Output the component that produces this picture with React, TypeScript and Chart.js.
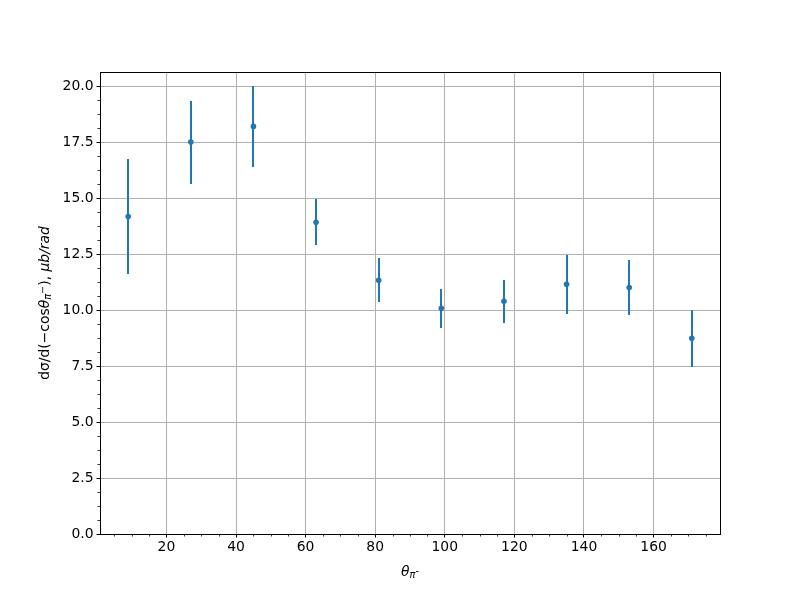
import React, { useEffect, useRef } from "react";
import { Chart, registerables } from "chart.js";

Chart.register(...registerables);

const angles = [9, 27, 45, 63, 81, 99, 117, 135, 153, 171];
const crossSection = [14.18, 17.5, 18.2, 13.92, 11.33, 10.08, 10.39, 11.15, 11.01, 8.74];
const errors = [2.56, 1.85, 1.8, 1.03, 0.98, 0.86, 0.95, 1.31, 1.22, 1.28];
const xTicks = [20, 40, 60, 80, 100, 120, 140, 160];
const yTicks = [0, 2.5, 5, 7.5, 10, 12.5, 15, 17.5, 20];
const xMinorTicks = [5, 10, 15, 25, 30, 35, 45, 50, 55, 65, 70, 75, 85, 90, 95, 105, 110, 115, 125, 130, 135, 145, 150, 155, 165, 170, 175];
const yMinorTicks = [0.625, 1.25, 1.875, 3.125, 3.75, 4.375, 5.625, 6.25, 6.875, 8.125, 8.75, 9.375, 10.625, 11.25, 11.875, 13.125, 13.75, 14.375, 15.625, 16.25, 16.875, 18.125, 18.75, 19.375];

const BLUE = "#1f77b4";
const FONT = "'DejaVu Sans', sans-serif";
const FS = 13.9;

type Seg = { text: string; italic?: boolean; scale?: number; dy?: number };

function drawRich(ctx: CanvasRenderingContext2D, segs: Seg[], cx: number, cy: number) {
  const fontFor = (s: Seg) => `${s.italic ? "italic " : ""}${FS * (s.scale || 1)}px ${FONT}`;
  let total = 0;
  const widths = segs.map((s) => {
    ctx.font = fontFor(s);
    const w = ctx.measureText(s.text).width;
    total += w;
    return w;
  });
  let x = cx - total / 2;
  ctx.textBaseline = "middle";
  ctx.textAlign = "left";
  ctx.fillStyle = "#000";
  segs.forEach((s, i) => {
    ctx.font = fontFor(s);
    ctx.fillText(s.text, x, cy + (s.dy || 0));
    x += widths[i];
  });
}

const customPlugin = {
  id: "custom",
  beforeDatasetsDraw(chart: any) {
    const ctx = chart.ctx as CanvasRenderingContext2D;
    const xs = chart.scales.x;
    const ys = chart.scales.y;
    ctx.save();
    ctx.strokeStyle = BLUE;
    ctx.lineWidth = 2;
    angles.forEach((a, i) => {
      const px = Math.round(xs.getPixelForValue(a));
      ctx.beginPath();
      ctx.moveTo(px, Math.round(ys.getPixelForValue(crossSection[i] + errors[i])));
      ctx.lineTo(px, Math.round(ys.getPixelForValue(crossSection[i] - errors[i])));
      ctx.stroke();
    });
    ctx.restore();
  },
  afterDraw(chart: any) {
    const ctx = chart.ctx as CanvasRenderingContext2D;
    const xs = chart.scales.x;
    const ys = chart.scales.y;
    const a = chart.chartArea;
    ctx.save();
    ctx.strokeStyle = "#000";
    ctx.lineWidth = 1;
    ctx.strokeRect(Math.round(a.left) + 0.5, Math.round(a.top) + 0.5, Math.round(a.right - a.left), Math.round(a.bottom - a.top));
    ctx.lineWidth = 0.8;
    ctx.beginPath();
    xMinorTicks.forEach((v) => {
      const px = Math.round(xs.getPixelForValue(v)) + 0.5;
      ctx.moveTo(px, a.bottom);
      ctx.lineTo(px, a.bottom + 2.5);
    });
    yMinorTicks.forEach((v) => {
      const py = Math.round(ys.getPixelForValue(v)) + 0.5;
      ctx.moveTo(a.left, py);
      ctx.lineTo(a.left - 2.5, py);
    });
    ctx.stroke();

    drawRich(
      ctx,
      [
        { text: "θ", italic: true },
        { text: "π", italic: true, scale: 0.7, dy: 3 },
        { text: "-", scale: 0.7, dy: -1 },
      ],
      (a.left + a.right) / 2,
      572
    );

    ctx.translate(45, (a.top + a.bottom) / 2);
    ctx.rotate(-Math.PI / 2);
    drawRich(
      ctx,
      [
        { text: "dσ/d(−cos" },
        { text: "θ", italic: true },
        { text: "π", italic: true, scale: 0.7, dy: 3 },
        { text: "−", scale: 0.7, dy: -2 },
        { text: "), " },
        { text: "μb/rad", italic: true },
      ],
      0,
      0
    );
    ctx.restore();
  },
};

export default function App() {
  const ref = useRef<HTMLCanvasElement>(null);
  useEffect(() => {
    if (!ref.current) return;
    const chart = new Chart(ref.current, {
      type: "scatter",
      data: {
        datasets: [
          {
            data: angles.map((a, i) => ({ x: a, y: crossSection[i] })),
            backgroundColor: BLUE,
            borderColor: BLUE,
            borderWidth: 0,
            pointRadius: 2.8,
            showLine: false,
          },
        ],
      },
      options: {
        animation: false,
        responsive: false,
        devicePixelRatio: 1,
        layout: { padding: { top: 72, right: 80, left: 0, bottom: 0 } },
        plugins: { legend: { display: false }, tooltip: { enabled: false } },
        scales: {
          x: {
            type: "linear",
            min: 0.9,
            max: 179.1,
            afterBuildTicks: (s: any) => {
              s.ticks = xTicks.map((v) => ({ value: v }));
            },
            afterFit: (s: any) => {
              s.height = 66;
            },
            ticks: {
              callback: (v: any) => String(v),
              font: { family: FONT, size: FS },
              color: "#000",
              padding: 2,
              maxRotation: 0,
            },
            grid: { color: "#b0b0b0", lineWidth: 1, tickColor: "#000", tickLength: 3.5, tickWidth: 1 },
            border: { display: true, color: "#000", width: 1 },
          },
          y: {
            type: "linear",
            min: 0,
            max: 20.63,
            afterBuildTicks: (s: any) => {
              s.ticks = yTicks.map((v) => ({ value: v }));
            },
            afterFit: (s: any) => {
              s.width = 100;
            },
            ticks: {
              callback: (v: any) => Number(v).toFixed(1),
              font: { family: FONT, size: FS },
              color: "#000",
              padding: 3,
            },
            grid: { color: "#b0b0b0", lineWidth: 1, tickColor: "#000", tickLength: 3.5, tickWidth: 1 },
            border: { display: true, color: "#000", width: 1 },
          },
        },
      },
      plugins: [customPlugin],
    } as any);
    return () => chart.destroy();
  }, []);
  return (
    <div style={{ position: "fixed", left: 0, top: 0, width: 800, height: 600, background: "#fff" }}>
      <canvas ref={ref} width={800} height={600} />
    </div>
  );
}
